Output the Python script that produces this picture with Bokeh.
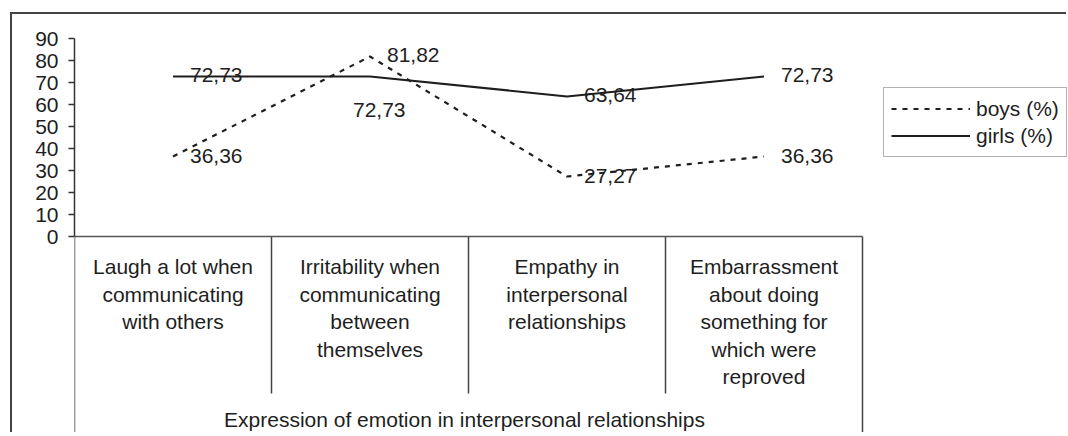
from bokeh.plotting import figure
from bokeh.models import ColumnDataSource, Range1d, FixedTicker, Legend, LegendItem
from bokeh.core.properties import value
from bokeh.embed import file_html
from bokeh.resources import INLINE

# ---------------- data ----------------
categories = [
    "Laugh a lot when\ncommunicating\nwith others",
    "Irritability when\ncommunicating\nbetween\nthemselves",
    "Empathy in\ninterpersonal\nrelationships",
    "Embarrassment\nabout doing\nsomething for\nwhich were\nreproved",
]
group_title = "Expression of emotion in interpersonal relationships"
boys = [36.36, 81.82, 27.27, 36.36]
girls = [72.73, 72.73, 63.64, 72.73]
y_ticks = [0, 10, 20, 30, 40, 50, 60, 70, 80, 90]
series_names = ["boys (%)", "girls (%)"]

# ---------------- style ----------------
FONT = "Liberation Sans"
INK = "#1e1e1e"
FS = "21px"
PX_PER_CAT = 197.0
PX_PER_UNIT = 2.2
FIG_W = 1056
LEFT_BORDER = 62
FRAME_W = FIG_W - LEFT_BORDER
FRAME_H = 420
ZERO_FROM_TOP = 222

n = len(categories)
xs = [i + 0.5 for i in range(n)]


def fmt(v):
    return f"{v:.2f}".replace(".", ",")


y_top = ZERO_FROM_TOP / PX_PER_UNIT
y_bot = -(FRAME_H - ZERO_FROM_TOP) / PX_PER_UNIT

p = figure(
    width=FIG_W, height=FRAME_H,
    output_backend="svg", toolbar_location=None,
    x_range=Range1d(0, FRAME_W / PX_PER_CAT),
    y_range=Range1d(y_bot, y_top),
    min_border_left=LEFT_BORDER, min_border_right=0,
    min_border_top=0, min_border_bottom=0,
    x_axis_type=None,
)
p.styles = {
    "margin-left": "10px", "margin-top": "12px",
    "border-left": "2px solid #444", "border-top": "2px solid #444",
}
p.grid.visible = False
p.outline_line_color = None
p.background_fill_color = "white"
p.border_fill_color = "white"

ax = p.yaxis[0]
ax.ticker = FixedTicker(ticks=y_ticks)
ax.bounds = (min(y_ticks), max(y_ticks))
ax.major_tick_out = 6
ax.major_tick_in = 0
ax.minor_tick_out = 0
ax.minor_tick_in = 0
ax.axis_line_color = "#333"
ax.axis_line_width = 1.5
ax.major_tick_line_color = "#333"
ax.major_tick_line_width = 1.5
ax.major_label_text_font = FONT
ax.major_label_text_font_size = FS
ax.major_label_text_color = INK
ax.major_label_standoff = 10

# category table lines (baseline + dividers)
div_depth = -(393 - 236) / PX_PER_UNIT
seg_x = list(range(n + 1))
seg_y1 = [y_bot] + [div_depth] * (n - 1) + [y_bot]
p.segment(x0=seg_x, y0=[0] * (n + 1), x1=seg_x, y1=seg_y1,
          line_color="#444", line_width=1.5)
p.segment(x0=[0], y0=[0], x1=[n], y1=[0], line_color="#555", line_width=1.5)

# series lines
boys_r = p.line(xs, boys, line_color=INK, line_width=2.2, line_dash="5 6")
girls_r = p.line(xs, girls, line_color=INK, line_width=2.2)

# data labels
text_kw = dict(text_font=value(FONT), text_font_size=FS, text_color=INK,
               text_baseline="middle", text_align="left")
boys_src = ColumnDataSource(dict(x=xs, y=boys, t=[fmt(v) for v in boys]))
p.text(x="x", y="y", text="t", source=boys_src, x_offset=17, y_offset=-1, **text_kw)

girls_xoff = [17, -17, 17, 17]
girls_yoff = [-1, 34, -1, -1]
girls_src = ColumnDataSource(dict(x=xs, y=girls, t=[fmt(v) for v in girls],
                                  xo=girls_xoff, yo=girls_yoff))
p.text(x="x", y="y", text="t", source=girls_src, x_offset="xo", y_offset="yo", **text_kw)

# category labels (one glyph row per line)
cx, ct, cyo = [], [], []
for i, lab in enumerate(categories):
    for j, line in enumerate(lab.split("\n")):
        cx.append(xs[i])
        ct.append(line)
        cyo.append(30 + j * 27.5)
cat_src = ColumnDataSource(dict(x=cx, t=ct, yo=cyo))
p.text(x="x", y=0, text="t", source=cat_src, y_offset="yo",
       text_font=value(FONT), text_font_size=FS, text_color=INK,
       text_baseline="middle", text_align="center")

p.text(x=[n / 2], y=[0], text=[group_title], y_offset=183, x_offset=-4,
       text_font=value(FONT), text_font_size=FS, text_color=INK,
       text_baseline="middle", text_align="center")

# legend
legend = Legend(
    items=[LegendItem(label=series_names[0], renderers=[boys_r]),
           LegendItem(label=series_names[1], renderers=[girls_r])],
    location=(809, FRAME_H - 157 + 14),
    border_line_color="#666", border_line_width=1.5,
    background_fill_color="white", background_fill_alpha=1.0,
    padding=7, spacing=0, margin=0,
    label_height=27, glyph_height=27, glyph_width=79, label_standoff=6,
    label_text_font=FONT, label_text_font_size=FS, label_text_color=INK,
)
p.add_layout(legend)

open("out.html", "w").write(file_html(p, INLINE))
